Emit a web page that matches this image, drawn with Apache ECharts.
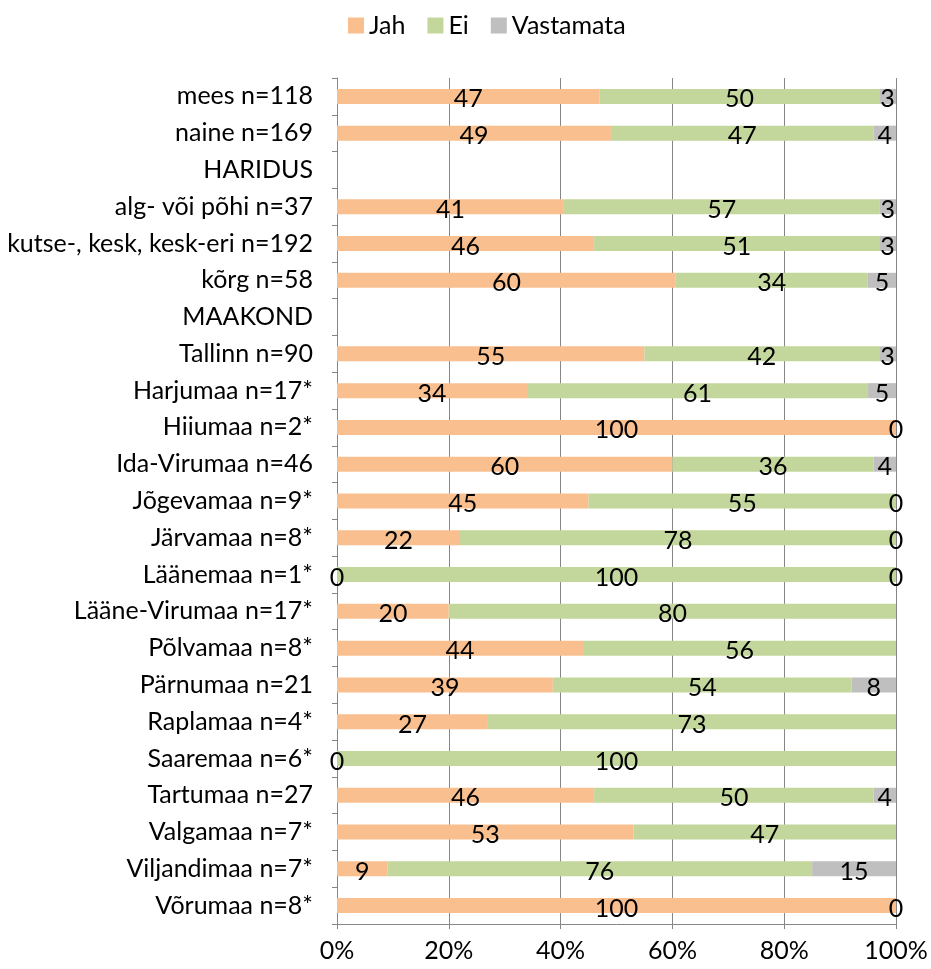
<!DOCTYPE html>
<html>
<head>
<meta charset="utf-8">
<script src="https://cdn.jsdelivr.net/npm/echarts@6/dist/echarts.min.js"></script>
<style>
  html, body { margin: 0; padding: 0; background: #fff; }
  #chart { width: 931px; height: 969px; }
</style>
</head>
<body>
<div id="chart"></div>
<script>
// vastuste jaotus (%), tühjad read on alapealkirjad
const categories = [
  'mees n=118', 'naine n=169', 'HARIDUS', 'alg- või põhi n=37',
  'kutse-, kesk, kesk-eri n=192', 'kõrg n=58', 'MAAKOND', 'Tallinn n=90',
  'Harjumaa n=17*', 'Hiiumaa n=2*', 'Ida-Virumaa n=46', 'Jõgevamaa n=9*',
  'Järvamaa n=8*', 'Läänemaa n=1*', 'Lääne-Virumaa n=17*', 'Põlvamaa n=8*',
  'Pärnumaa n=21', 'Raplamaa n=4*', 'Saaremaa n=6*', 'Tartumaa n=27',
  'Valgamaa n=7*', 'Viljandimaa n=7*', 'Võrumaa n=8*'
];
const jah = [47, 49, null, 41, 46, 60, null, 55, 34, 100, 60, 45, 22, 0, 20, 44, 39, 27, 0, 46, 53, 9, 100];
const ei = [50, 47, null, 57, 51, 34, null, 42, 61, null, 36, 55, 78, 100, 80, 56, 54, 73, 100, 50, 47, 76, null];
const vastamata = [3, 4, null, 3, 3, 5, null, 3, 5, 0, 4, 0, 0, 0, null, null, 8, null, null, 4, null, 15, 0];

const colors = { jah: '#F9BF8F', ei: '#C3D69B', vastamata: '#BFBFBF' };
const FONT = 'Lato';
const FS = 25;

// ümardatud väärtused ei anna alati kokku 100, seega normaliseerime
const totals = categories.map((_, i) => (jah[i] || 0) + (ei[i] || 0) + (vastamata[i] || 0));
const share = arr => arr.map((v, i) => (v == null ? null : v / totals[i] * 100));

const makeSeries = (name, raw, color) => ({
  name,
  type: 'bar',
  stack: 'total',
  barWidth: 15,
  data: share(raw),
  itemStyle: { color },
  label: {
    show: true,
    position: 'inside',
    offset: [0, 3],
    fontFamily: FONT,
    fontSize: FS,
    color: '#000',
    formatter: p => (raw[p.dataIndex] == null ? '' : String(raw[p.dataIndex]))
  }
});

const chart = echarts.init(document.getElementById('chart'));
chart.setOption({
  animation: false,
  textStyle: { fontFamily: FONT },
  legend: {
    top: 8,
    left: 343,
    itemWidth: 16,
    itemHeight: 16,
    itemGap: 22,
    icon: 'rect',
    textStyle: { fontFamily: FONT, fontSize: FS, color: '#000' },
    data: ['Jah', 'Ei', 'Vastamata']
  },
  grid: { left: 337, right: 35, top: 78, bottom: 45, containLabel: false },
  xAxis: {
    type: 'value',
    min: 0,
    max: 100,
    interval: 20,
    axisLine: { show: true, lineStyle: { color: '#868686', width: 1 } },
    axisTick: { show: true, length: 5, lineStyle: { color: '#868686' } },
    axisLabel: { formatter: '{value}%', fontFamily: FONT, fontSize: FS, color: '#000', margin: 14 },
    splitLine: { show: true, lineStyle: { color: '#868686', width: 1 } }
  },
  yAxis: {
    type: 'category',
    inverse: true,
    data: categories,
    axisLine: { show: true, lineStyle: { color: '#868686', width: 1 } },
    axisTick: { show: true, length: 5, lineStyle: { color: '#868686' } },
    axisLabel: { fontFamily: FONT, fontSize: FS, color: '#000', margin: 24 }
  },
  series: [
    makeSeries('Jah', jah, colors.jah),
    makeSeries('Ei', ei, colors.ei),
    makeSeries('Vastamata', vastamata, colors.vastamata)
  ]
});
</script>
</body>
</html>
